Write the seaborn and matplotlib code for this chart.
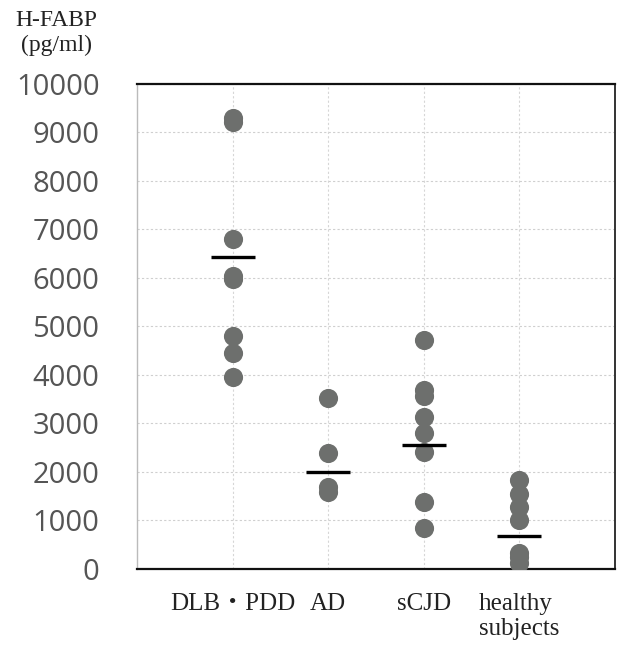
import pandas as pd
import numpy as np
import matplotlib
matplotlib.use("Agg")
import matplotlib.pyplot as plt
import seaborn as sns

# values (pg/ml)
groups = ["DLB・PDD", "AD", "sCJD", "healthy\nsubjects"]
dlb_pdd = [9300, 9220, 6800, 6050, 5980, 4800, 4450, 3950]
ad = [3520, 2400, 1700, 1580]
scjd = [4720, 3700, 3560, 3130, 2800, 2420, 1380, 840]
healthy = [1830, 1550, 1280, 1000, 320, 250, 130]
mean_lines = [6430, 2000, 2550, 680]
y_ticks = list(range(0, 10001, 1000))

df = pd.DataFrame({
    "group": [groups[0]] * len(dlb_pdd) + [groups[1]] * len(ad)
             + [groups[2]] * len(scjd) + [groups[3]] * len(healthy),
    "value": dlb_pdd + ad + scjd + healthy,
})

sns.set_style("white")
fig = plt.figure(figsize=(6.18, 6.47), dpi=100)
ax = fig.add_axes([0.2217, 0.1206, 0.7733, 0.7496])

# dotted grid first so the dots sit on top
for y in y_ticks[1:]:
    ax.axhline(y, color="#cfcfcf", lw=0.8, ls=(0, (2, 2)), zorder=0)
for i in range(len(groups)):
    ax.axvline(i, color="#d6d6d6", lw=0.8, ls=(0, (2, 2)), zorder=0)

sns.stripplot(data=df, x="group", y="value", order=groups, jitter=False,
              color="#6d6f6d", size=13.8, linewidth=0, ax=ax, zorder=3)

# group mean bars
xs = np.arange(len(groups))
ax.hlines(mean_lines, xs - 0.23, xs + 0.23, colors="black", lw=2.4, zorder=4)

ax.set_xlim(-1, 4)
ax.set_ylim(0, 10000)
ax.set_yticks(y_ticks)
ax.set_yticklabels([str(t) for t in y_ticks], fontsize=21, color="#555555",
                   family="Open Sans")
ax.set_xticks(xs)
ax.set_xticklabels(groups, fontsize=18, color="#222222",
                   family=["Liberation Serif", "Noto Sans CJK JP"],
                   multialignment="left")
ax.tick_params(axis="y", length=0, pad=27)
ax.tick_params(axis="x", length=0, pad=17)
ax.set_xlabel("")
ax.set_ylabel("")

for side in ["top", "bottom"]:
    ax.spines[side].set_color("#111111")
    ax.spines[side].set_linewidth(1.6)
ax.spines["left"].set_color("#bbbbbb")
ax.spines["left"].set_linewidth(1.0)
ax.spines["right"].set_color("#333333")
ax.spines["right"].set_linewidth(1.4)

fig.text(56 / 618, 1 - 33 / 647, "H-FABP\n(pg/ml)", ha="center", va="center",
         fontsize=17, color="#222222", family="Liberation Serif", linespacing=1.25)

fig.savefig("out.png", dpi=100)
